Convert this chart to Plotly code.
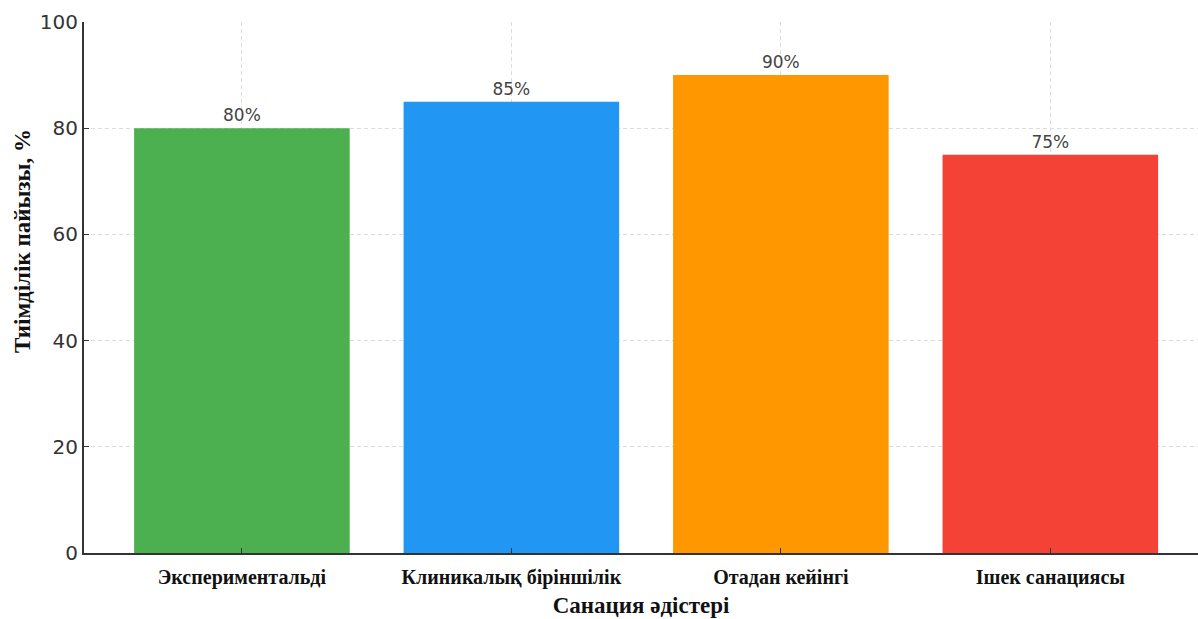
import plotly.graph_objects as go

categories = ["Экспериментальді", "Клиникалық біріншілік", "Отадан кейінгі", "Ішек санациясы"]
values = [80, 85, 90, 75]
labels = ["80%", "85%", "90%", "75%"]
colors = ["#4CAF50", "#2196F3", "#FF9800", "#F44336"]
y_ticks = [0, 20, 40, 60, 80, 100]

fig = go.Figure(go.Bar(
    x=categories, y=values, width=0.8,
    marker=dict(color=colors, line=dict(width=0)),
    text=labels, textposition="outside", cliponaxis=False,
    textfont=dict(family="DejaVu Sans", size=17, color="#444444"),
))

grid_color = "#dcdcdc"
fig.update_layout(
    width=1198, height=619,
    margin=dict(l=84, r=0, t=22, b=66),
    plot_bgcolor="white", paper_bgcolor="white",
    showlegend=False,
    xaxis=dict(
        range=[-0.586, 3.548],
        showline=True, linecolor="#333333", linewidth=2,
        showgrid=True, gridcolor=grid_color, griddash="4px,3px", gridwidth=1,
        ticks="inside", ticklen=5, tickcolor="#333333",
        ticklabelstandoff=5,
        tickfont=dict(family="Liberation Serif", size=20, color="#111111", weight="bold"),
        title=dict(text="Санация әдістері", standoff=9,
                   font=dict(family="Liberation Serif", size=23, color="#111111", weight="bold")),
    ),
    yaxis=dict(
        range=[0, 100], tickvals=y_ticks,
        showline=True, linecolor="#333333", linewidth=2,
        showgrid=True, gridcolor=grid_color, griddash="4px,3px", gridwidth=1,
        zeroline=False,
        ticks="inside", ticklen=5, tickcolor="#333333",
        tickfont=dict(family="DejaVu Sans", size=20, color="#333333"),
    ),
    annotations=[dict(
        text="Тиімділік пайызы, %", textangle=-90,
        xref="paper", yref="paper",
        x=(22 - 84) / 1114, y=(553 - 241) / 531,
        xanchor="center", yanchor="middle", showarrow=False,
        font=dict(family="Liberation Serif", size=23, color="#111111", weight="bold"),
    )],
    bargap=0.2,
)

fig.write_html("out.html")
